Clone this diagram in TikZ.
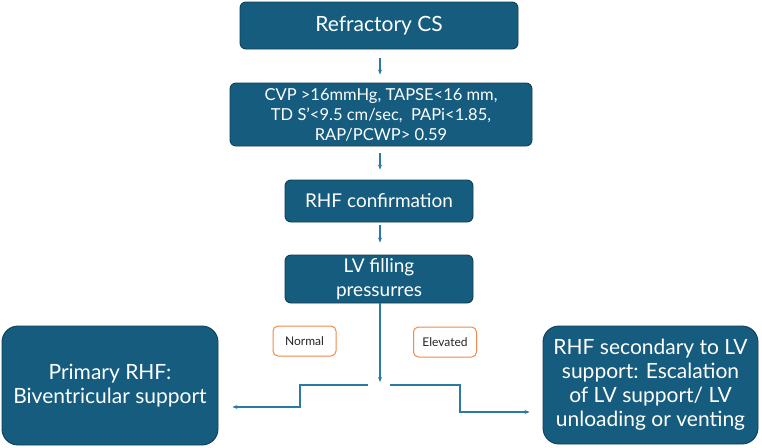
\documentclass[tikz,border=0pt]{standalone}
\usepackage{fontspec}
\setmainfont{Lato}
\usetikzlibrary{arrows.meta}
\definecolor{boxfill}{HTML}{155C7E}
\definecolor{boxdraw}{HTML}{0E3F57}
\definecolor{arrowc}{HTML}{2A7AA2}
\definecolor{orng}{HTML}{F08A4B}
\tikzset{
  box/.style={draw=boxdraw, line width=0.9pt, fill=boxfill, rounded corners=6pt, text=white, align=center, inner sep=2pt},
  bigbox/.style={box, rounded corners=16pt},
  tag/.style={draw=orng, line width=1pt, fill=white, rounded corners=5pt, text=black!85, font=\fontsize{12}{14}\selectfont, minimum width=63pt, minimum height=30pt, inner sep=1pt},
  conn/.style={draw=arrowc, line width=1.1pt, -{Stealth[length=5pt,width=4pt]}},
  line/.style={draw=arrowc, line width=1.1pt}
}
\begin{document}
\begin{tikzpicture}[x=1pt,y=-1pt]
\useasboundingbox (0,0) rectangle (762,447);
\node[box, minimum width=278pt, minimum height=47pt, font=\fontsize{21}{24}\selectfont] (a) at (379,25.5) {Refractory CS};
\node[box, minimum width=302pt, minimum height=63pt, font=\fontsize{16.5}{20}\selectfont] (b) at (381,114.5) {CVP >16mmHg, TAPSE<16 mm,\\TD S'<9.5 cm/sec,\ \ PAPi<1.85,\\RAP/PCWP> 0.59};
\node[box, minimum width=188pt, minimum height=42pt, font=\fontsize{19}{23}\selectfont] (c) at (379,201) {RHF confirmation};
\node[box, minimum width=188pt, minimum height=48pt, font=\fontsize{19}{24}\selectfont] (d) at (379,279) {LV filling\\pressurres};
\node[bigbox, minimum width=216pt, minimum height=119pt, font=\fontsize{21}{24}\selectfont] (l) at (110,385.5) {Primary RHF:\\Biventricular support};
\node[bigbox, minimum width=215pt, minimum height=118pt, font=\fontsize{21}{24}\selectfont] (r) at (650.5,385) {RHF secondary to LV\\support: Escalation\\of LV support/ LV\\unloading or venting};
\node[tag] (n) at (304.5,341) {Normal};
\node[tag] (e) at (445,342) {Elevated};
\draw[conn, shorten <=9pt, shorten >=8pt] (a.south -| 380,0) -- (b.north -| 380,0);
\draw[conn, shorten <=7pt, shorten >=10pt] (b.south -| 380,0) -- (c.north -| 380,0);
\draw[conn, shorten <=3pt, shorten >=12pt] (c.south -| 380,0) -- (d.north -| 380,0);
\coordinate (split) at (380,382);
\coordinate (ls) at (368,385);
\coordinate (rs) at (390,385);
\draw[conn] (d.south -| split) -- (split);
\draw[conn] (ls) -- (300,385) -- (300,407) -- ([xshift=14pt]l.east |- 0,407);
\draw[conn] (rs) -- (460,385) -- (460,412) -- ([xshift=-13pt]r.west |- 0,412);
\end{tikzpicture}
\end{document}
